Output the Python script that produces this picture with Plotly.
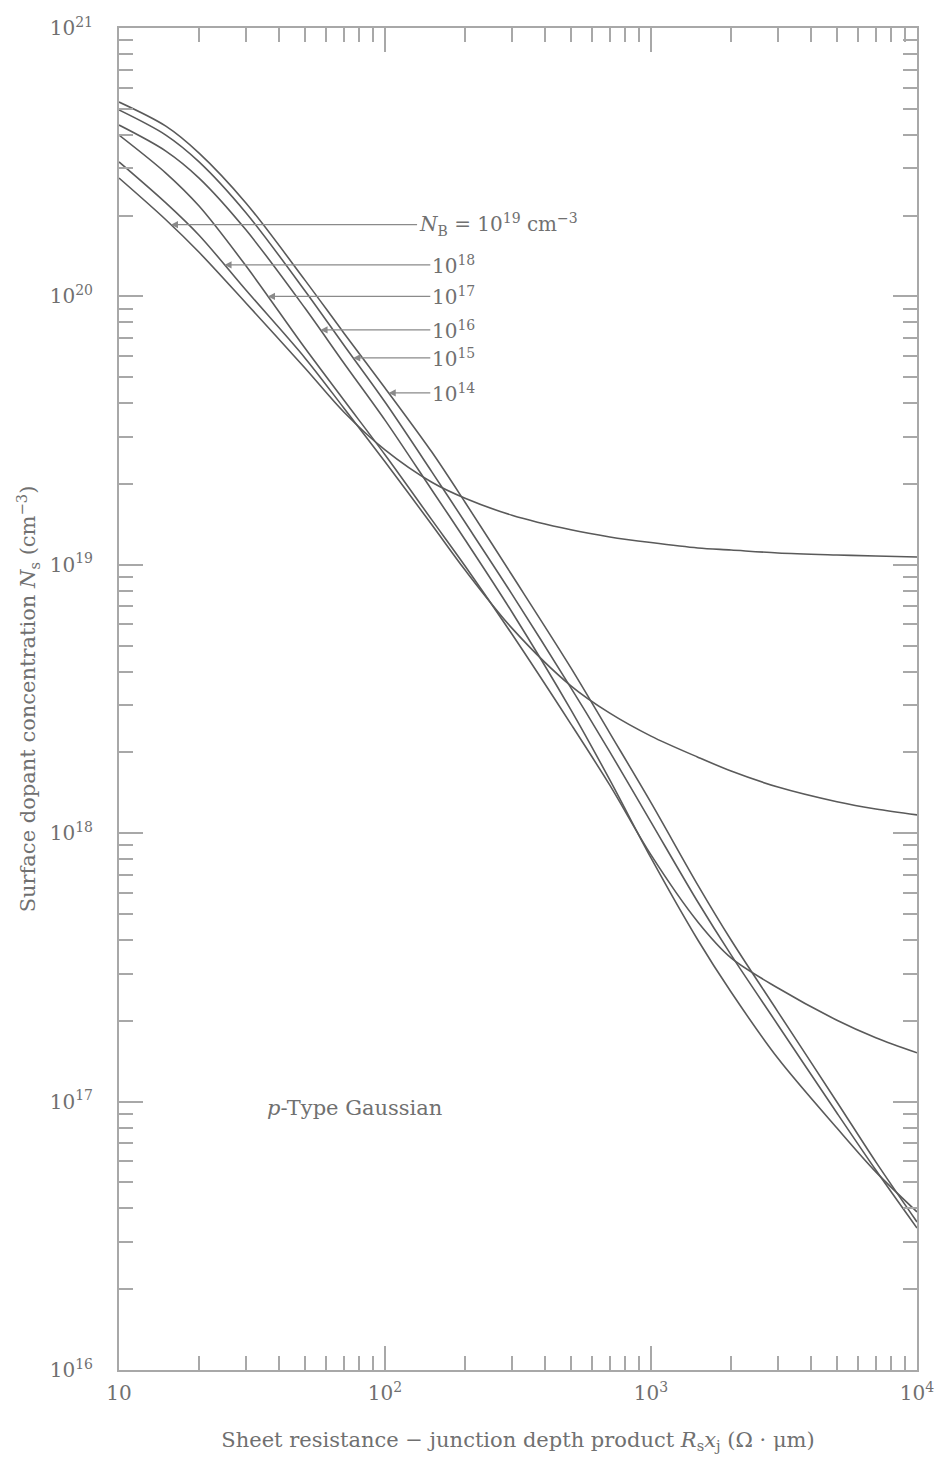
import numpy as np
import plotly.graph_objects as go

# Sheet resistance - junction depth product Rs*xj (ohm-um)
rs_xj = [10, 15, 20, 30, 50, 70, 100, 150, 200, 300, 500, 700,
         1000, 1500, 2000, 3000, 5000, 7000, 10000]

# Surface concentration Ns (cm^-3) for each background doping NB
ns_nb19 = [2.76e20, 1.93e20, 1.46e20, 9.45e19, 5.41e19, 3.71e19, 2.68e19, 2.03e19,
           1.77e19, 1.53e19, 1.35e19, 1.27e19, 1.21e19, 1.155e19, 1.135e19,
           1.107e19, 1.088e19, 1.078e19, 1.069e19]
ns_nb18 = [3.17e20, 2.23e20, 1.69e20, 1.056e20, 5.90e19, 3.84e19, 2.42e19, 1.41e19,
           9.56e18, 5.81e18, 3.54e18, 2.80e18, 2.30e18, 1.92e18, 1.705e18,
           1.486e18, 1.31e18, 1.23e18, 1.17e18]
ns_nb17 = [3.99e20, 2.88e20, 2.17e20, 1.30e20, 6.42e19, 4.11e19, 2.57e19, 1.47e19,
           9.90e18, 5.52e18, 2.55e18, 1.51e18, 8.30e17, 4.67e17, 3.43e17,
           2.65e17, 2.01e17, 1.73e17, 1.52e17]
ns_nb16 = [4.35e20, 3.48e20, 2.76e20, 1.77e20, 9.05e19, 5.65e19, 3.46e19, 1.90e19,
           1.24e19, 6.67e18, 2.88e18, 1.58e18, 8.09e17, 4.00e17, 2.56e17,
           1.45e17, 7.97e16, 5.47e16, 3.88e16]
ns_nb15 = [4.95e20, 3.99e20, 3.17e20, 2.05e20, 1.05e20, 6.59e19, 4.04e19, 2.22e19,
           1.44e19, 7.78e18, 3.48e18, 2.01e18, 1.10e18, 5.54e17, 3.52e17,
           1.93e17, 9.07e16, 5.56e16, 3.38e16]
ns_nb14 = [5.30e20, 4.31e20, 3.42e20, 2.23e20, 1.15e20, 7.31e19, 4.56e19, 2.63e19,
           1.71e19, 9.16e18, 4.13e18, 2.36e18, 1.30e18, 6.41e17, 4.00e17,
           2.16e17, 9.97e16, 5.96e16, 3.56e16]

curves = [ns_nb19, ns_nb18, ns_nb17, ns_nb16, ns_nb15, ns_nb14]
curve_labels = ["<i>N</i><sub>B</sub> = 10<sup>19</sup> cm<sup>−3</sup>",
                "10<sup>18</sup>", "10<sup>17</sup>", "10<sup>16</sup>",
                "10<sup>15</sup>", "10<sup>14</sup>"]
# Ns level of each label's leader line
leader_levels = [1.85e20, 1.31e20, 1.0e20, 7.5e19, 5.9e19, 4.37e19]
# Rs*xj where each label starts
label_x = [132, 148, 148, 148, 148, 148]

x_ticks = [10, 100, 1000, 10000]
x_ticktext = ["10", "10<sup>2</sup>", "10<sup>3</sup>", "10<sup>4</sup>"]
y_ticks = [1e16, 1e17, 1e18, 1e19, 1e20, 1e21]
y_ticktext = ["10<sup>16</sup>", "10<sup>17</sup>", "10<sup>18</sup>",
              "10<sup>19</sup>", "10<sup>20</sup>", "10<sup>21</sup>"]

line_color = "#5a5a5a"
axis_color = "#a8a8a8"
text_color = "#707070"
font_family = "DejaVu Serif, Liberation Serif, serif"

fig = go.Figure()
for ns in curves:
    fig.add_trace(go.Scatter(
        x=rs_xj, y=ns, mode="lines",
        line=dict(color=line_color, width=1.6, shape="spline", smoothing=0.9),
        showlegend=False, hoverinfo="skip"))

# Labels with leader arrows that end on their curves
lx_all = np.log10(rs_xj)
for ns, text, level, lx in zip(curves, curve_labels, leader_levels, label_x):
    ly = np.log10(ns)
    tip_x = float(np.interp(np.log10(level), ly[::-1], lx_all[::-1]))
    fig.add_annotation(
        x=tip_x, y=float(np.log10(level)), xref="x", yref="y",
        ax=float(np.log10(lx)), ay=float(np.log10(level)), axref="x", ayref="y",
        text=text, xanchor="left", yanchor="middle",
        showarrow=True, arrowhead=2, arrowsize=1.1, arrowwidth=1.3,
        arrowcolor="#8a8a8a", standoff=0,
        font=dict(family=font_family, size=20, color=text_color))

fig.add_annotation(
    x=float(np.log10(77)), y=float(np.log10(9.5e16)), xref="x", yref="y",
    text="<i>p</i>-Type Gaussian", showarrow=False,
    font=dict(family=font_family, size=21, color=text_color))

axis_common = dict(
    type="log", showgrid=False, zeroline=False,
    showline=True, linecolor=axis_color, linewidth=2, mirror="allticks",
    ticks="inside", ticklen=24, tickwidth=1.5, tickcolor=axis_color,
    tickfont=dict(family=font_family, size=20, color=text_color),
)

x_minor = [float(m) * 10.0 ** e for e in (1, 2, 3) for m in range(2, 10)]
y_minor = [float(m) * 10.0 ** e for e in (16, 17, 18, 19, 20) for m in range(2, 10)]

fig.update_xaxes(
    **axis_common, range=[1, 4], tickmode="array",
    tickvals=x_ticks, ticktext=x_ticktext, ticklabelstandoff=4,
    minor=dict(tickmode="array", tickvals=x_minor, ticks="inside",
               ticklen=14, tickwidth=1.5, tickcolor=axis_color, showgrid=False),
    title=dict(text="Sheet resistance − junction depth product <i>R</i><sub>s</sub><i>x</i><sub>j</sub> (Ω · μm)",
               font=dict(family=font_family, size=21, color=text_color), standoff=28))
fig.update_yaxes(
    **axis_common, range=[16, 21], tickmode="array",
    tickvals=y_ticks, ticktext=y_ticktext, ticklabelstandoff=20,
    minor=dict(tickmode="array", tickvals=y_minor, ticks="inside",
               ticklen=14, tickwidth=1.5, tickcolor=axis_color, showgrid=False),
    title=dict(text="Surface dopant concentration <i>N</i><sub>s</sub> (cm<sup>−3</sup>)",
               font=dict(family=font_family, size=21, color=text_color), standoff=8))

fig.update_layout(
    width=942, height=1458,
    margin=dict(l=119, r=25, t=28, b=88, autoexpand=False),
    paper_bgcolor="white", plot_bgcolor="white",
)

fig.write_html("out.html")
